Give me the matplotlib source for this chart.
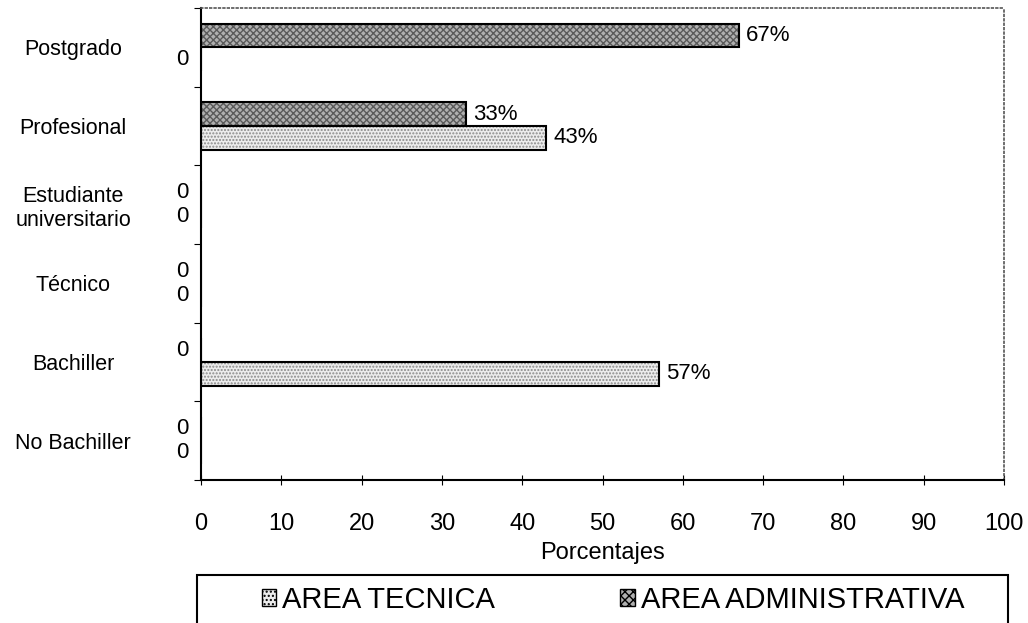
import matplotlib.pyplot as plt
from matplotlib.patches import Rectangle
import numpy as np

# categories from bottom to top
categories = ['No Bachiller', 'Bachiller', 'Técnico', 'Estudiante\nuniversitario',
              'Profesional', 'Postgrado']
area_tecnica = [0, 57, 0, 0, 43, 0]
area_administrativa = [0, 0, 0, 0, 33, 67]
x_ticks = [0, 10, 20, 30, 40, 50, 60, 70, 80, 90, 100]
series_names = ['AREA TECNICA', 'AREA ADMINISTRATIVA']

plt.rcParams['font.family'] = ['Liberation Sans', 'DejaVu Sans']

fig = plt.figure(figsize=(10.28, 6.23), dpi=100)
ax = fig.add_axes([201 / 1028, 143 / 623, 803 / 1028, 472 / 623])

y = np.arange(len(categories))
h = 0.3

# fill with texture, then black outline on top
ax.barh(y - h / 2, area_tecnica, height=h, color='#ededed', hatch='.....',
        edgecolor='#8a8a8a', linewidth=0)
ax.barh(y + h / 2, area_administrativa, height=h, color='#b0b0b0', hatch='xxxxx',
        edgecolor='#5a5a5a', linewidth=0)
ax.barh(y - h / 2, area_tecnica, height=h, fill=False, edgecolor='black', linewidth=1.5)
ax.barh(y + h / 2, area_administrativa, height=h, fill=False, edgecolor='black', linewidth=1.5)

# value labels
for yy, vals in ((y - h / 2, area_tecnica), (y + h / 2, area_administrativa)):
    for yi, v in zip(yy, vals):
        if v == 0:
            ax.annotate('0', (0, yi), xytext=(-9, 0), textcoords='offset points',
                        ha='right', va='center', fontsize=16)
        else:
            ax.annotate(f'{v}%', (v, yi), xytext=(5, 0), textcoords='offset points',
                        ha='left', va='center', fontsize=16)

ax.set_xlim(0, 100)
ax.set_ylim(-0.5, len(categories) - 0.5)
ax.set_xticks(x_ticks)
ax.tick_params(axis='x', direction='inout', length=7, pad=20, labelsize=17)
ax.set_xlabel('Porcentajes', fontsize=17, labelpad=5)

ax.set_yticks(np.arange(-0.5, len(categories), 1.0))
ax.set_yticklabels([])
ax.set_yticks(y, minor=True)
ax.set_yticklabels(categories, minor=True, ha='center', fontsize=15.5)
ax.tick_params(axis='y', which='major', length=5, direction='out')
ax.tick_params(axis='y', which='minor', length=0, pad=92)

for s in ('left', 'bottom'):
    ax.spines[s].set_linewidth(1.5)
for s in ('top', 'right'):
    ax.spines[s].set_linestyle(':')
    ax.spines[s].set_color('#555555')
    ax.spines[s].set_linewidth(1.2)

# legend box (runs off the bottom of the image)
fig.patches.append(Rectangle((197 / 1028, -0.05), 811 / 1028, 0.05 + 48 / 623,
                             transform=fig.transFigure, fill=False,
                             edgecolor='black', linewidth=1.5))
handles = [Rectangle((0, 0), 1, 1, facecolor='#ededed', hatch='....', edgecolor='black'),
           Rectangle((0, 0), 1, 1, facecolor='#b0b0b0', hatch='xxxx', edgecolor='black')]
fig.legend(handles=handles, labels=series_names,
           loc='center', bbox_to_anchor=(613 / 1028, 23 / 623), ncol=2, frameon=False,
           fontsize=21, handlelength=0.5, handleheight=0.5, handletextpad=0.2,
           columnspacing=4.3)

fig.savefig('out.png', dpi=100)
